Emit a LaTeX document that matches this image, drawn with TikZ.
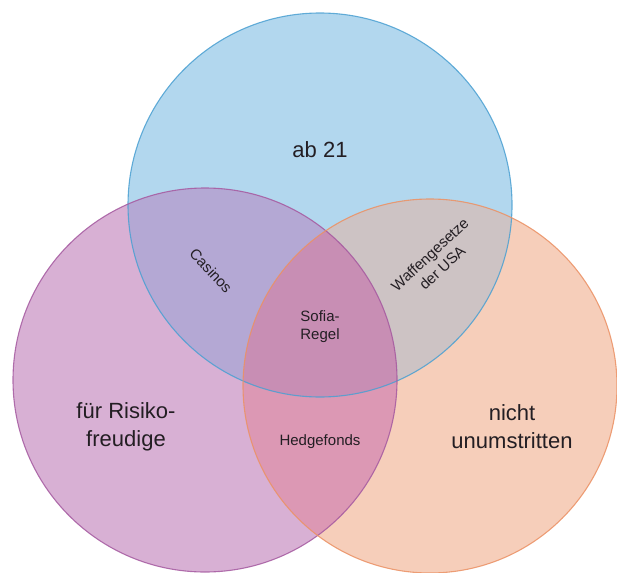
\documentclass[tikz,border=0pt]{standalone}
\usepackage{fontspec}
\setmainfont{Liberation Sans}
\definecolor{fB}{RGB}{178,215,238}
\definecolor{fP}{RGB}{216,176,212}
\definecolor{fO}{RGB}{246,206,186}
\definecolor{fBP}{RGB}{180,168,212}
\definecolor{fBO}{RGB}{205,195,196}
\definecolor{fPO}{RGB}{220,152,180}
\definecolor{fBPO}{RGB}{200,142,180}
\definecolor{bblue}{RGB}{75,160,210}
\definecolor{bpurple}{RGB}{165,90,160}
\definecolor{borange}{RGB}{235,145,100}
\definecolor{txt}{RGB}{35,30,35}
\begin{document}
\begin{tikzpicture}[x=1pt,y=-1pt,
  setcircle/.style={circle, minimum size=#1, inner sep=0pt, line width=1.1pt},
  biglabel/.style={text=txt, font=\fontsize{22}{28}\selectfont, align=center},
  smalllabel/.style={text=txt, font=\fontsize{15}{18}\selectfont, align=center}]
\useasboundingbox (0,0) rectangle (617,572);
\def\cB{(320,205) circle[radius=192]}
\def\cP{(205,380) circle[radius=192]}
\def\cO{(430,386) circle[radius=187]}
\begin{scope}
\clip (0,0) rectangle (617,572);
\fill[fB] \cB;
\fill[fP] \cP;
\fill[fO] \cO;
\begin{scope}\clip \cB; \fill[fBP] \cP; \end{scope}
\begin{scope}\clip \cB; \fill[fBO] \cO; \end{scope}
\begin{scope}\clip \cP; \fill[fPO] \cO; \end{scope}
\begin{scope}\clip \cB; \clip \cP; \fill[fBPO] \cO; \end{scope}
\node[setcircle=384pt, draw=bblue, draw opacity=0.85] (top) at (320,205) {};
\node[setcircle=384pt, draw=bpurple, draw opacity=0.85] (left) at (205,380) {};
\node[setcircle=374pt, draw=borange, draw opacity=0.85] (right) at (430,386) {};
\end{scope}
\node[biglabel] (ab) at (320,150) {ab 21};
\node[biglabel] (risk) at (126,427) {für Risiko-\\freudige};
\node[biglabel] (nicht) at (512,427) {nicht\\unumstritten};
\node[smalllabel, rotate=-47] (casinos) at (211,271) {Casinos};
\node[smalllabel, rotate=43] (waffen) at (436,261) {Waffengesetze\\der USA};
\node[smalllabel] (sofia) at (320,327) {Sofia-\\Regel};
\node[smalllabel] (hedge) at (320,442) {Hedgefonds};
\end{tikzpicture}
\end{document}
